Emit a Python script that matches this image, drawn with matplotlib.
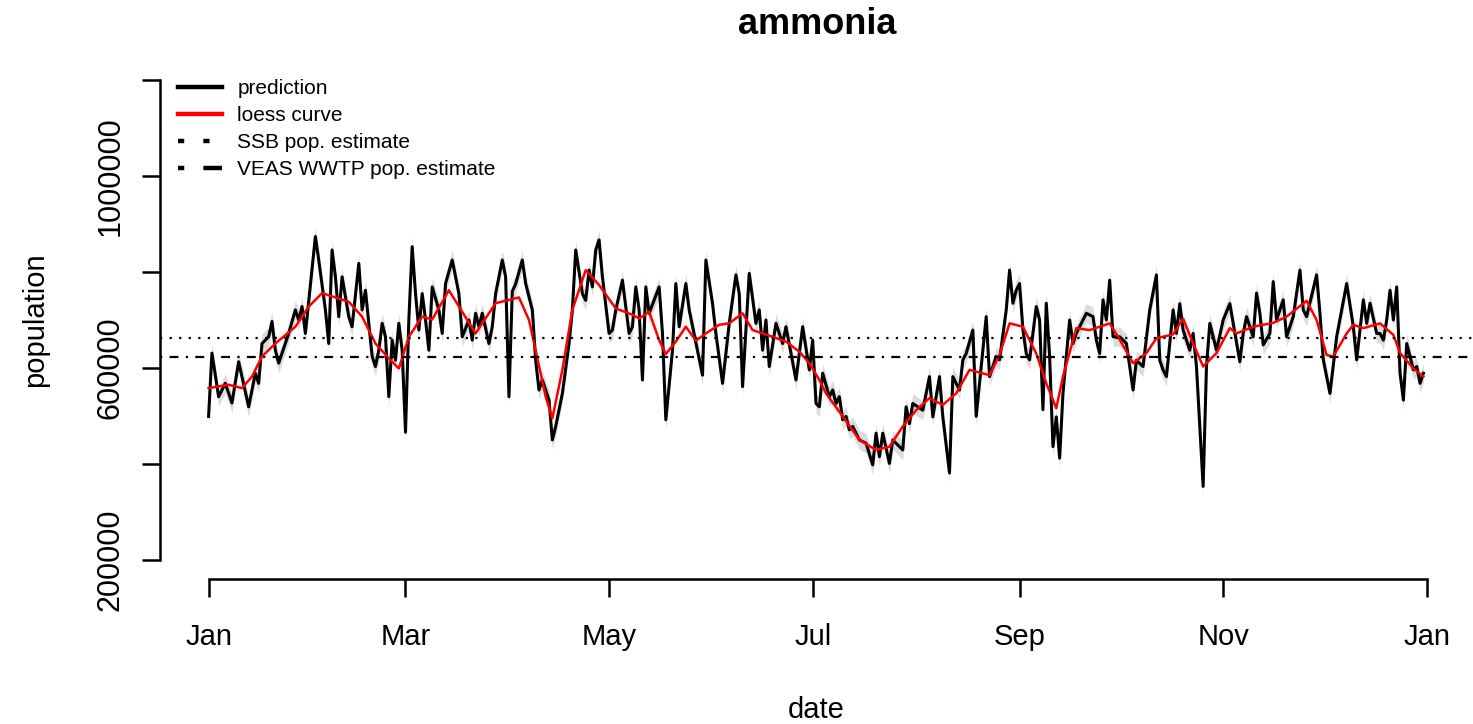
import matplotlib
matplotlib.use('Agg')
import matplotlib.pyplot as plt
import matplotlib.dates as mdates
from matplotlib.lines import Line2D
import numpy as np

plt.rcParams['font.family'] = ['Liberation Sans', 'DejaVu Sans']

start = np.datetime64('2019-01-01')

# daily prediction (days since Jan 1, population in thousands)
pred_day = [0, 1, 3, 5, 7, 9, 12, 14, 15, 16, 17, 18, 19, 20, 21, 23, 24, 26, 27, 28, 29,
            32, 33, 35, 36, 37, 38, 39, 40, 42, 43, 45, 46, 47, 49, 50, 51, 52, 53, 54, 55,
            56, 57, 58, 59, 60, 61, 62, 63, 64, 65, 66, 67, 69, 70, 71, 73, 75, 76, 78, 79,
            80, 81, 82, 84, 85, 86, 88, 89, 90, 91, 92, 94, 95, 97, 98, 99, 100, 102, 103,
            104, 106, 108, 109, 110, 112, 113, 114, 115, 116, 117, 118, 120, 121, 122, 124,
            126, 127, 128, 129, 130, 131, 132, 135, 136, 137, 139, 140, 141, 143, 144, 148,
            149, 151, 152, 154, 156, 158, 159, 160, 162, 164, 165, 166, 167, 168, 170, 172,
            173, 176, 178, 180, 181, 182, 183, 184, 186, 187, 188, 189, 190, 191, 192, 193,
            195, 197, 199, 200, 201, 202, 204, 205, 207, 208, 209, 210, 211, 214, 216, 217,
            219, 220, 222, 223, 225, 226, 227, 229, 230, 233, 234, 236, 237, 239, 240, 241,
            242, 243, 244, 245, 246, 248, 249, 250, 251, 252, 253, 254, 255, 256, 258, 259,
            260, 262, 263, 265, 266, 267, 268, 269, 270, 271, 273, 275, 277, 278, 280, 282,
            284, 285, 286, 287, 288, 289, 290, 291, 292, 294, 295, 296, 298, 299, 300, 302,
            304, 306, 307, 309, 310, 311, 313, 314, 315, 316, 318, 319, 320, 322, 323, 325,
            327, 328, 329, 332, 333, 334, 336, 338, 341, 343, 344, 346, 347, 348, 350, 351,
            352, 353, 354, 355, 356, 357, 358, 359, 361, 362, 363, 364]
pred_k = [499, 631, 540, 568, 527, 613, 519, 589, 568, 651, 658, 665, 697, 637, 610, 651, 672, 721, 700, 728, 672,
          874, 825, 721, 651, 846, 790, 707, 790, 707, 686, 818, 721, 762, 624, 603, 637, 693, 665, 540, 658,
          616, 693, 637, 466, 700, 853, 755, 679, 755, 700, 637, 769, 721, 672, 776, 825, 755, 665, 700, 658,
          714, 686, 714, 651, 686, 755, 825, 790, 540, 760, 775, 825, 776, 721, 616, 554, 575, 533, 450,
          478, 547, 651, 721, 846, 755, 741, 804, 769, 846, 867, 790, 672, 679, 721, 783,
          672, 686, 769, 721, 575, 769, 714, 769, 672, 492, 637, 776, 686, 776, 721, 585,
          825, 734, 672, 568, 693, 794, 755, 561, 797, 693, 721, 637, 700, 603, 693, 651,
          686, 575, 686, 596, 658, 526, 519, 589, 540, 554, 526, 540, 492, 499, 471, 478,
          450, 443, 398, 464, 415, 464, 401, 450, 436, 429, 519, 484, 526, 512, 582, 498,
          582, 498, 381, 582, 554, 617, 630, 679, 499, 707, 582, 624, 617, 721, 804, 735,
          762, 776, 680, 630, 617, 728, 700, 513, 735, 624, 436, 498, 412, 547, 700, 651,
          672, 700, 714, 707, 658, 630, 742, 700, 783, 665, 665, 651, 554, 616, 603, 721,
          794, 616, 596, 582, 651, 721, 672, 734, 679, 637, 672, 603, 353, 603, 693, 637,
          700, 734, 693, 613, 672, 707, 665, 756, 714, 648, 672, 780, 700, 742, 665, 707,
          804, 721, 707, 794, 714, 617, 547, 665, 776, 686, 617, 742, 693, 735, 672, 672,
          658, 700, 762, 700, 769, 589, 533, 651, 596, 603, 568, 589]

# loess curve (days since Jan 1, thousands)
loess_day = [0, 6, 10, 13, 16, 20, 26, 30, 34, 38, 42, 46, 50, 54, 57, 60, 64, 67, 72, 80,
             86, 93, 96, 98, 101, 103, 106, 109, 113, 117, 122, 127, 129, 132, 135, 137, 140,
             143, 146, 149, 153, 156, 160, 163, 169, 173, 177, 180, 183, 185, 190, 195, 200,
             204, 208, 212, 216, 220, 224, 228, 234, 237, 240, 244, 248, 251, 254, 256, 260,
             264, 270, 273, 277, 281, 284, 289, 292, 295, 298, 302, 306, 308, 313, 319, 323,
             329, 332, 335, 337, 341, 343, 346, 351, 355, 357, 361, 364]
loess_k = [558, 565, 558, 582, 624, 651, 686, 728, 756, 747, 738, 707, 651, 620, 599, 665, 707, 701, 762, 672,
           735, 747, 700, 637, 540, 495, 596, 721, 804, 773, 724, 711, 703, 717, 658, 629, 655,
           686, 657, 672, 690, 693, 714, 679, 665, 655, 634, 610, 575, 547, 499, 450, 429,
           436, 478, 512, 537, 523, 547, 596, 585, 627, 693, 686, 630, 568, 516, 582, 683,
           679, 693, 659, 610, 631, 662, 670, 703, 651, 603, 631, 683, 672, 686, 694, 707,
           740, 700, 627, 624, 672, 690, 683, 693, 669, 631, 599, 582]

band_halfwidth = 20000
ssb_estimate = 662500
veas_estimate = 622000

y_ticks = [200000, 400000, 600000, 800000, 1000000, 1200000]
y_labels = ['200000', '', '600000', '', '1000000', '']
month_ticks = ['2019-01-01', '2019-03-01', '2019-05-01', '2019-07-01',
               '2019-09-01', '2019-11-01', '2020-01-01']
month_labels = ['Jan', 'Mar', 'May', 'Jul', 'Sep', 'Nov', 'Jan']

pred_dates = start + np.array(pred_day).astype('timedelta64[D]')
pred = np.array(pred_k) * 1000
loess_dates = start + np.array(loess_day).astype('timedelta64[D]')
loess = np.array(loess_k) * 1000

fig = plt.figure(figsize=(14.73, 7.24), dpi=100)
ax = fig.add_axes([160 / 1473, 1 - 579 / 724, 1312 / 1473, 518 / 724])

ax.fill_between(pred_dates, pred - band_halfwidth, pred + band_halfwidth,
                color='#dcdcdc', lw=0)
ax.plot(pred_dates, pred, color='black', lw=2.2)
ax.plot(loess_dates, loess, color='red', lw=1.8)
ax.axhline(ssb_estimate, color='black', lw=1.6, ls=(0, (1, 3.3)))
ax.axhline(veas_estimate, color='black', lw=1.6, ls=(0, (1, 3.3, 4, 3.3)))

# R style axis ranges (4% padding)
d0 = mdates.date2num(pred_dates[0])
d1 = mdates.date2num(pred_dates[-1])
pad = 0.04 * (d1 - d0)
ax.set_xlim(d0 - pad, d1 + pad)
ax.set_ylim(200000 - 0.04 * 1e6, 1200000 + 0.04 * 1e6)

tick_nums = [mdates.date2num(np.datetime64(t)) for t in month_ticks]
ax.set_xticks(tick_nums)
ax.set_xticklabels(month_labels)
ax.set_yticks(y_ticks)
ax.set_yticklabels(y_labels, rotation=90, va='center')

for s in ['top', 'right']:
    ax.spines[s].set_visible(False)
ax.spines['left'].set_bounds(y_ticks[0], y_ticks[-1])
ax.spines['bottom'].set_bounds(tick_nums[0], tick_nums[-1])
ax.spines['left'].set_linewidth(1.8)
ax.spines['bottom'].set_linewidth(1.8)
ax.tick_params(axis='both', length=13, width=1.8, labelsize=21)
ax.tick_params(axis='x', pad=19)
ax.tick_params(axis='y', labelsize=22, pad=12)

fig.text(817 / 1473, 1 - 25 / 724, 'ammonia', ha='center', va='center',
         fontsize=26, fontweight='bold')
fig.text(35 / 1473, 1 - 320 / 724, 'population', ha='center', va='center',
         rotation=90, fontsize=21)
fig.text(816 / 1473, 1 - 710 / 724, 'date', ha='center', va='center', fontsize=21)

handles = [
    Line2D([], [], color='black', lw=3.2),
    Line2D([], [], color='red', lw=3.2),
    Line2D([], [], color='black', lw=3.2, ls=(0, (1.4, 4.3))),
    Line2D([], [], color='black', lw=3.2, ls=(0, (1.4, 4.3, 5.6, 4.3))),
]
labels = ['prediction', 'loess curve', 'SSB pop. estimate', 'VEAS WWTP pop. estimate']
ax.legend(handles, labels, loc='upper left', bbox_to_anchor=(0.0137, 0.965),
          frameon=False, fontsize=15, handlelength=2.1, handletextpad=0.75,
          labelspacing=0.38, borderpad=0, borderaxespad=0)

fig.savefig('out.png', dpi=100)
